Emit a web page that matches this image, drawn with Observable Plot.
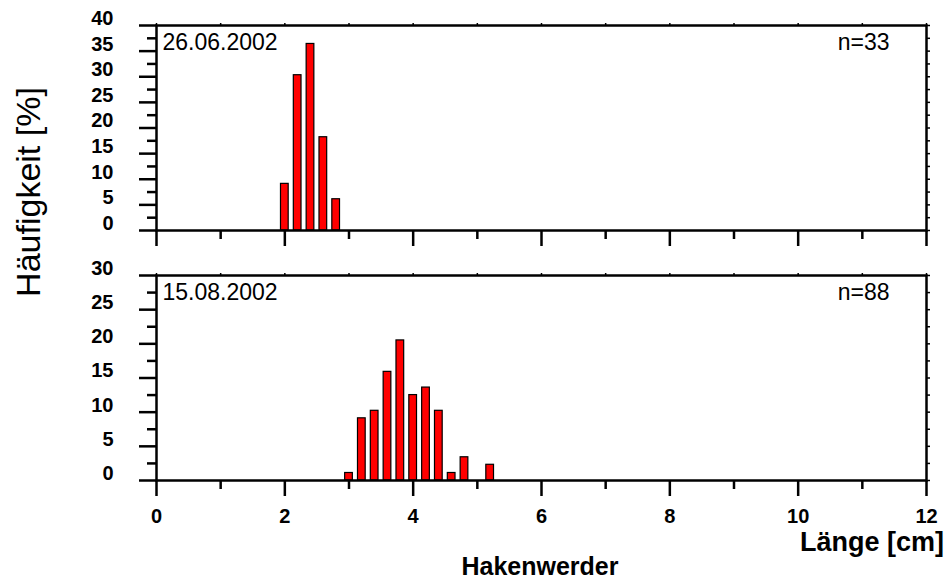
<!DOCTYPE html>
<html>
<head>
<meta charset="utf-8">
<script src="https://cdn.jsdelivr.net/npm/d3@7"></script>
<script src="https://cdn.jsdelivr.net/npm/@observablehq/plot@0.6"></script>
<style>
  body { margin: 0; background: white; }
  #chart { position: relative; width: 947px; height: 579px; font-family: "Liberation Sans", Arial, sans-serif; }
  #chart svg { position: absolute; left: 0; overflow: visible; }
</style>
</head>
<body>
<div id="chart"></div>
<script>
// ---- data ----
const lengths1 = [2.0, 2.2, 2.4, 2.6, 2.8];
const pct1 = [9.1, 30.3, 36.4, 18.2, 6.1];
const lengths2 = [3.0, 3.2, 3.4, 3.6, 3.8, 4.0, 4.2, 4.4, 4.6, 4.8, 5.2];
const pct2 = [1.1, 9.1, 10.2, 15.9, 20.5, 12.5, 13.6, 10.2, 1.1, 3.4, 2.3];
const dates = ["26.06.2002", "15.08.2002"];
const counts = ["n=33", "n=88"];
const yMaxes = [40, 30];
const xMajorTicks = [0, 2, 4, 6, 8, 10, 12];
const xMinorTicks = [1, 3, 5, 7, 9, 11];
const xTopTicks = [0, 1, 2, 3, 4, 5, 6, 7, 8, 9, 10, 11, 12];
const yLabel = "Häufigkeit [%]";
const xLabel = "Länge [cm]";
const siteLabel = "Hakenwerder";

const FONT = "Liberation Sans, Arial, sans-serif";
const halfBar = 0.06;

function panel(i, lens, vals, height, marginBottom, showXLabels) {
  const data = lens.map((l, k) => ({len: l, pct: vals[k]}));
  const yMax = yMaxes[i];
  const yMajor = d3.range(0, yMax + 0.001, 5);
  const yMinor = d3.range(2.5, yMax, 5);
  const yAll = d3.range(0, yMax + 0.001, 2.5);
  return Plot.plot({
    width: 947,
    height,
    marginLeft: 156,
    marginRight: 21,
    marginTop: 25,
    marginBottom,
    style: {fontFamily: FONT, color: "black", background: "transparent"},
    x: {domain: [0, 12]},
    y: {domain: [0, yMax]},
    marks: [
      Plot.rectY(data, {
        x1: d => d.len - halfBar, x2: d => d.len + halfBar, y: "pct",
        fill: "#ff0000", stroke: "black", strokeWidth: 1.2
      }),
      Plot.frame({strokeWidth: 2.5}),
      // left y axis: ticks
      Plot.axisY({ticks: yMajor, tickSize: 17, tickFormat: () => "", label: null, strokeWidth: 2.5}),
      Plot.axisY({ticks: yMinor, tickSize: 9, tickFormat: () => "", label: null, strokeWidth: 2.5}),
      // left y axis: labels (raised slightly above their ticks)
      Plot.axisY({ticks: yMajor, tickSize: 0, tickPadding: 43, fontSize: 20, fontWeight: "bold",
        dy: -7, label: null}),
      // right frame small ticks
      Plot.axisY({anchor: "right", ticks: yAll, tickSize: 3, tickFormat: () => "", label: null, strokeWidth: 1.5}),
      // top frame small ticks
      Plot.axisX({anchor: "top", ticks: xTopTicks, tickSize: 3, tickFormat: () => "", label: null, strokeWidth: 1.5}),
      // bottom x axis
      Plot.axisX({ticks: xMajorTicks, tickSize: 16, tickPadding: 12, fontSize: 20, fontWeight: "bold",
        tickFormat: showXLabels ? d => String(d) : () => "", label: null, strokeWidth: 2.5}),
      Plot.axisX({ticks: xMinorTicks, tickSize: 9, tickFormat: () => "", label: null, strokeWidth: 2.5}),
      // panel annotations
      Plot.text([dates[i]], {text: d => d, frameAnchor: "top-left", textAnchor: "start", lineAnchor: "top",
        dx: 6, dy: 8, fontSize: 23}),
      Plot.text([counts[i]], {text: d => d, frameAnchor: "top-right", textAnchor: "end", lineAnchor: "top",
        dx: -37, dy: 8, fontSize: 23})
    ]
  });
}

const chart = document.getElementById("chart");
const p1 = panel(0, lengths1, pct1, 250, 20, false);
p1.style.top = "0px";
chart.appendChild(p1);
const p2 = panel(1, lengths2, pct2, 329, 99, true);
p2.style.top = "250px";
chart.appendChild(p2);

// overlay with shared labels
const ov = d3.create("svg").attr("width", 947).attr("height", 579)
  .style("top", "0px").style("pointer-events", "none")
  .attr("font-family", FONT);
ov.append("text").attr("transform", "translate(40,192) rotate(-90)")
  .attr("text-anchor", "middle").attr("font-size", 34).text(yLabel);
ov.append("text").attr("x", 944).attr("y", 551).attr("text-anchor", "end")
  .attr("font-size", 27).attr("font-weight", "bold").text(xLabel);
ov.append("text").attr("x", 540).attr("y", 575).attr("text-anchor", "middle")
  .attr("font-size", 25).attr("font-weight", "bold").text(siteLabel);
chart.appendChild(ov.node());
</script>
</body>
</html>
